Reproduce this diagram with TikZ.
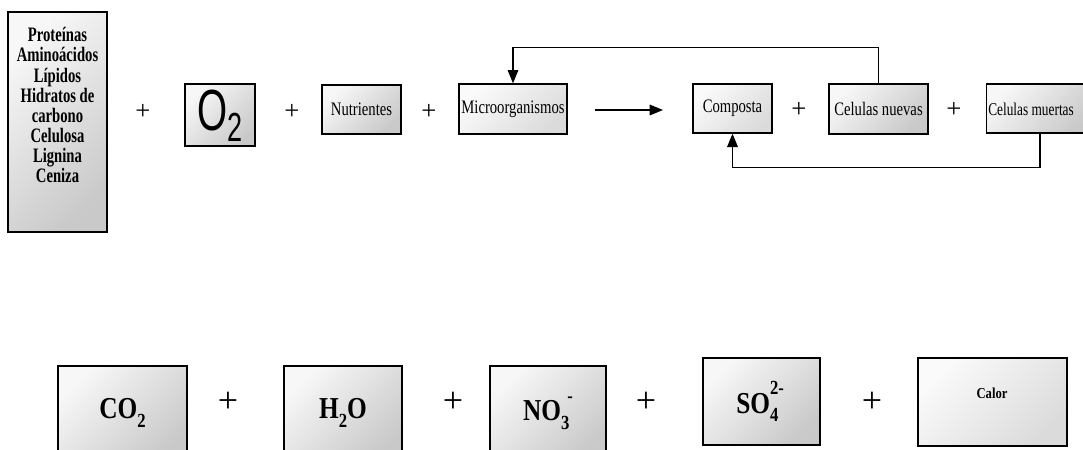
\documentclass[tikz,border=0pt]{standalone}
\usepackage{fontspec}
\setmainfont{Liberation Serif}
\newfontfamily\arialf{Liberation Sans}
\usepackage{graphicx}
\usetikzlibrary{arrows.meta}
\newcommand\vstretch[2][1.3]{\scalebox{1}[#1]{#2}}
\newcommand\chemsub[1]{\raisebox{-0.28em}{\fontsize{12.5}{12.5}\selectfont #1}}
\newcommand\chemsup[1]{\raisebox{0.62em}{\fontsize{12.5}{12.5}\selectfont #1}}
\begin{document}
\begin{tikzpicture}[x=0.75pt,y=-0.75pt,
  box/.style={draw=black, line width=1pt, inner sep=0pt, top color=gray!6, bottom color=gray!42, shading angle=45},
  lightbox/.style={box, top color=gray!4, bottom color=gray!28, shading angle=45},
  lbl/.style={font=\fontsize{11}{11}\selectfont, inner sep=0pt},
  plus/.style={font=\fontsize{20}{20}\selectfont, inner sep=0pt},
  bigplus/.style={font=\fontsize{27}{27}\selectfont, inner sep=0pt},
  chem/.style={font=\bfseries\fontsize{19}{19}\selectfont, inner sep=0pt},
  fb/.style={line width=0.9pt, -{Triangle[length=10pt,width=8pt]}}]
\useasboundingbox (0,0) rectangle (1083,450);

% ---- top row
\node[box, minimum width=74.25pt, minimum height=165pt] (subst) at (57.5,122) {};
\node[inner sep=0pt, font=\bfseries\fontsize{11}{10.5}\selectfont] (substtxt) at (57.5,108)
  {\vstretch[1.4]{\begin{tabular}{@{}c@{}}Proteínas\\Aminoácidos\\Lípidos\\Hidratos de\\carbono\\Celulosa\\Lignina\\Ceniza\end{tabular}}};
\node[plus] (p1) at (143,112) {+};
\node[box, minimum width=52.5pt, minimum height=46.5pt] (o2) at (220,115) {};
\node[inner sep=0pt, font=\arialf\fontsize{29}{29}\selectfont] (o2txt) at (220,116) {\vstretch[1.5]{O\textsubscript{2}}};
\node[plus] (p2) at (292,112) {+};
\node[box, minimum width=59.25pt, minimum height=36.75pt, lbl] (nutr) at (361.5,109.5) {\vstretch{Nutrientes}};
\node[plus] (p3) at (429,112) {+};
\node[lightbox, minimum width=81pt, minimum height=37.5pt, lbl] (micro) at (513,109) {\vstretch{Microorganismos}};
\coordinate (a1) at (595,110);
\coordinate (a2) at (663,110);
\draw[fb] (a1) -- (a2);
\node[lightbox, minimum width=59.25pt, minimum height=36.75pt, lbl] (comp) at (732.5,108.5) {\vstretch{Composta}};
\node[plus] (p4) at (799,110) {+};
\node[box, minimum width=74.25pt, minimum height=37.5pt, lbl] (nuevas) at (878.5,109) {\vstretch{Celulas nuevas}};
\node[plus] (p5) at (954,110) {+};
\node[box, minimum width=80pt, minimum height=36.75pt] (muertas) at (1040,108.5) {};
\node[inner sep=0pt, anchor=west, font=\fontsize{10}{10}\selectfont] (muertastxt) at (988,109) {\vstretch[1.35]{Celulas muertas}};

% feedback connectors
\draw[fb] (nuevas.north) -- ++(0,-36) -| (micro.north);
\draw[fb] (muertas.south) -- ++(0,34) -| (comp.south);

% ---- bottom row
\node[box, minimum width=96.75pt, minimum height=70.5pt, chem] (co2) at (122.5,413) {\vstretch[1.2]{CO\chemsub{2}}};
\node[bigplus] (q1) at (228,402) {+};
\node[box, minimum width=88.5pt, minimum height=70.5pt, chem] (h2o) at (343,413) {\vstretch[1.2]{H\chemsub{2}O}};
\node[bigplus] (q2) at (453,402) {+};
\node[box, minimum width=87pt, minimum height=70.5pt, chem] (no3) at (548,413) {\vstretch[1.2]{NO\chemsub{3}\hspace{-1.5pt}\chemsup{-}}};
\node[bigplus] (q3) at (646,402) {+};
\node[box, minimum width=87.75pt, minimum height=65.25pt, chem] (so4) at (761.5,401.5) {\vstretch[1.2]{SO\rlap{\chemsup{2-}}\chemsub{4}\phantom{\chemsup{2}}}};
\node[bigplus] (q4) at (872,402) {+};
\node[lightbox, minimum width=111.75pt, minimum height=66pt] (calor) at (992.5,402) {};
\node[inner sep=0pt, font=\bfseries\fontsize{9.5}{9.5}\selectfont] (calortxt) at (992,393) {\vstretch[1.2]{Calor}};
\end{tikzpicture}
\end{document}
